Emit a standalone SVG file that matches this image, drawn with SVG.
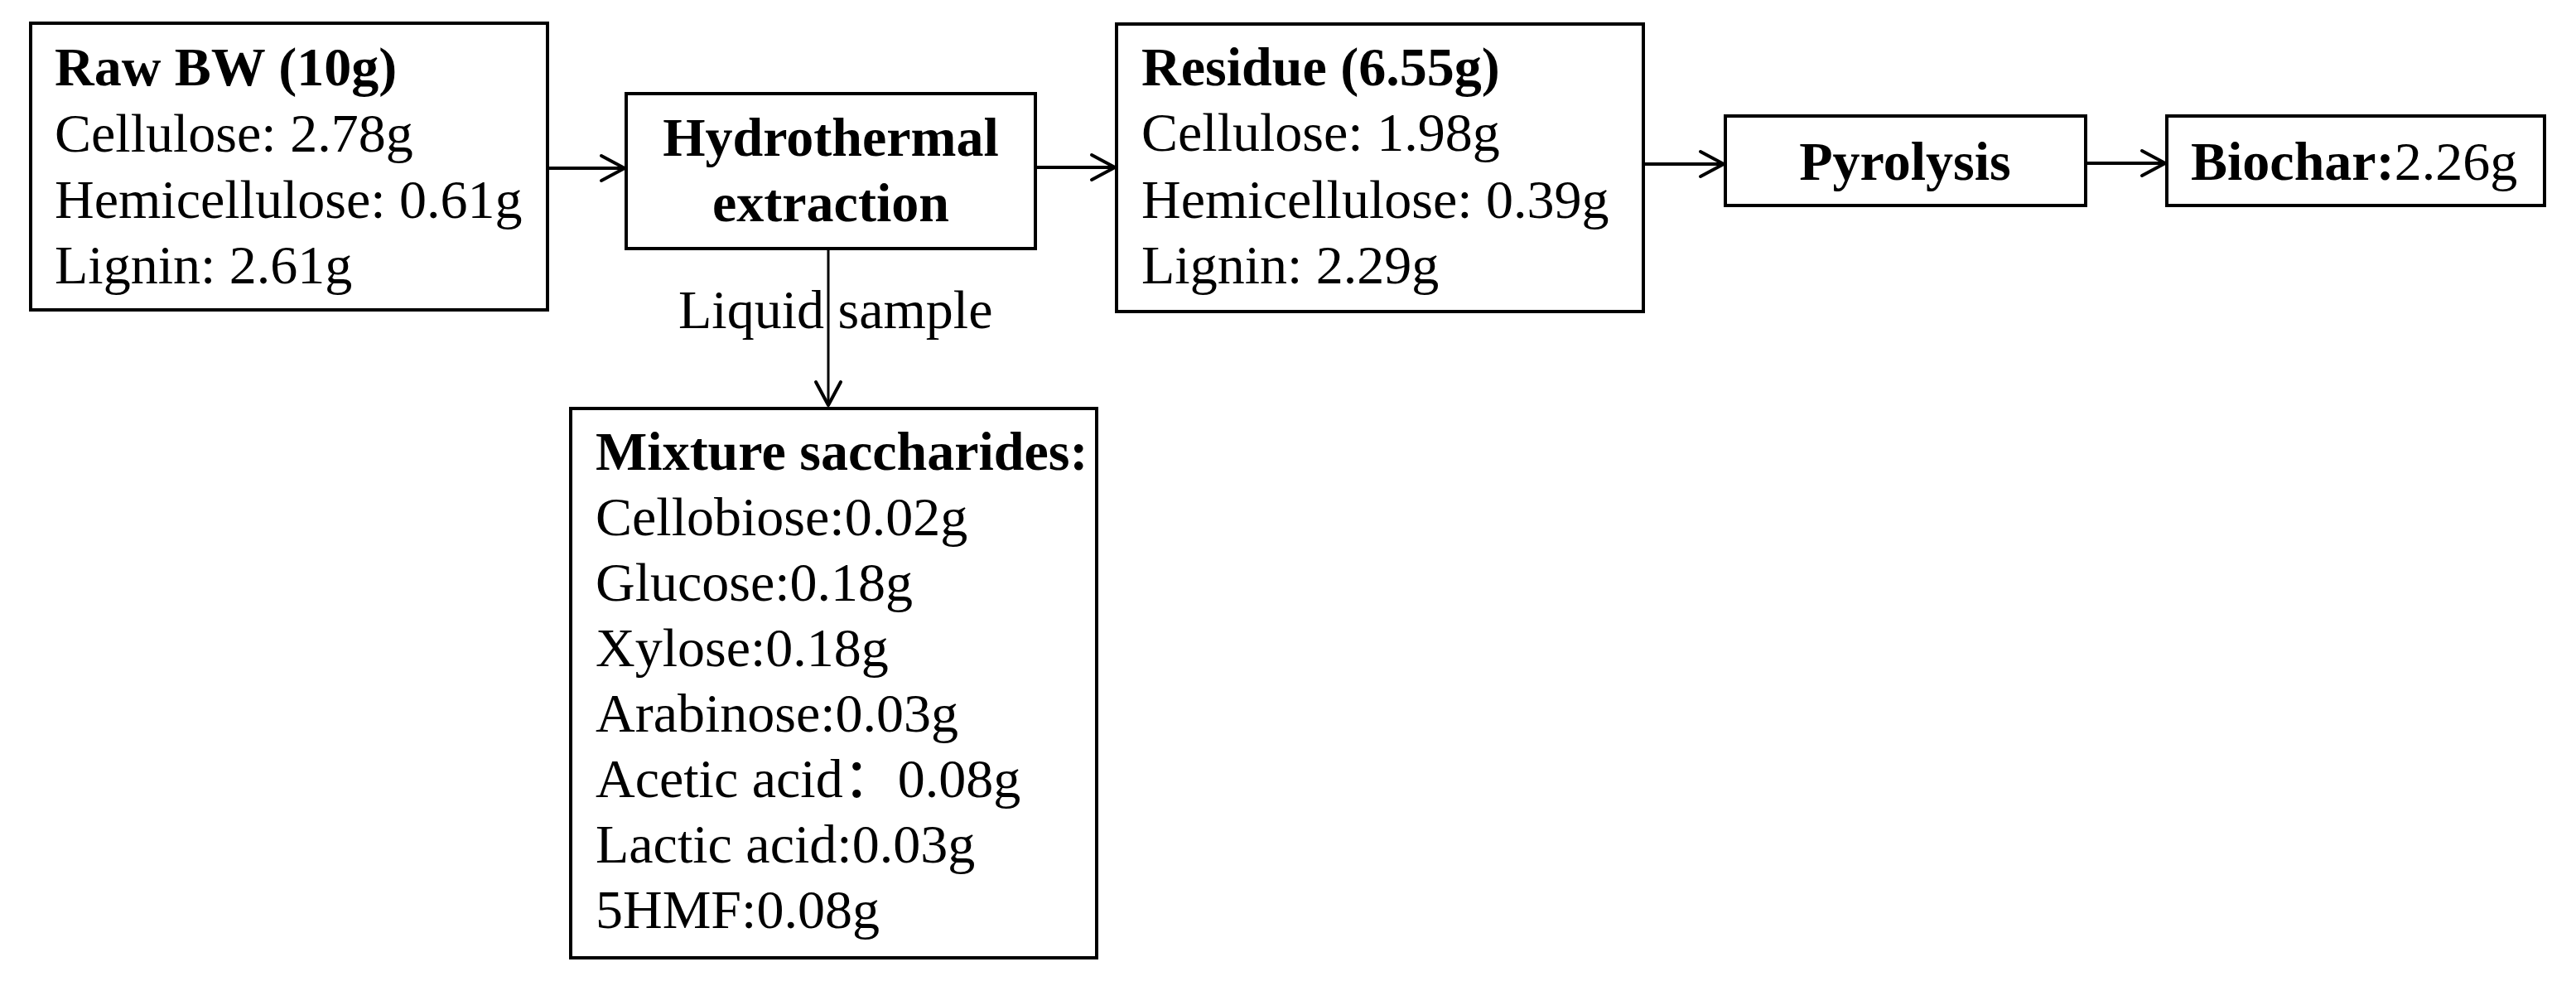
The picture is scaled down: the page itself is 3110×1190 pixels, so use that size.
<svg xmlns="http://www.w3.org/2000/svg" width="3110" height="1190" viewBox="0 0 3110 1190">
<defs>
<marker id="arr" markerUnits="userSpaceOnUse" markerWidth="40" markerHeight="40" viewBox="-32 -20 36 40" refX="0" refY="0" orient="auto">
<path d="M-28,-15 L0,0 L-28,15" fill="none" stroke="#000" stroke-width="4" stroke-linecap="round" stroke-linejoin="round"/>
</marker>
</defs>
<style>
.box{fill:#fff;stroke:#000;stroke-width:4}
text{font-family:"Liberation Serif","Times New Roman","Noto Sans CJK SC",serif;font-size:66px;fill:#000}
.b{font-weight:bold}
.c{text-anchor:middle}
.ln{stroke:#000;stroke-width:4;fill:none}
</style>
<rect width="3110" height="1190" fill="#fff"/>
<g id="connectors">
<line class="ln" x1="661" y1="203" x2="754" y2="203" marker-end="url(#arr)"/>
<line class="ln" x1="1250" y1="202" x2="1346" y2="202" marker-end="url(#arr)"/>
<line class="ln" x1="1984" y1="198" x2="2081" y2="198" marker-end="url(#arr)"/>
<line class="ln" x1="2518" y1="197" x2="2614" y2="197" marker-end="url(#arr)"/>
<line class="ln" x1="1000" y1="300" x2="1000" y2="489" style="stroke-width:3" marker-end="url(#arr)"/>
<text x="819" y="396">Liquid sample</text>
</g>
<g id="raw-bw">
<rect class="box" x="37" y="28" width="624" height="346"/>
<text x="66" y="103" class="b">Raw BW (10g)</text>
<text x="66" y="183">Cellulose: 2.78g</text>
<text x="66" y="263">Hemicellulose: 0.61g</text>
<text x="66" y="342">Lignin: 2.61g</text>
</g>
<g id="hydrothermal">
<rect class="box" x="756" y="113" width="494" height="187"/>
<text x="1003" y="188" class="b c">Hydrothermal</text>
<text x="1003" y="267" class="b c">extraction</text>
</g>
<g id="residue">
<rect class="box" x="1348" y="29" width="636" height="347"/>
<text x="1378" y="103" class="b">Residue (6.55g)</text>
<text x="1378" y="182">Cellulose: 1.98g</text>
<text x="1378" y="263">Hemicellulose: 0.39g</text>
<text x="1378" y="342">Lignin: 2.29g</text>
</g>
<g id="pyrolysis">
<rect class="box" x="2083" y="140" width="435" height="108"/>
<text x="2300" y="217" class="b c">Pyrolysis</text>
</g>
<g id="biochar">
<rect class="box" x="2616" y="140" width="456" height="108"/>
<text x="2645" y="217"><tspan class="b">Biochar:</tspan>2.26g</text>
</g>
<g id="mixture">
<rect class="box" x="689" y="493" width="635" height="663"/>
<text x="719" y="567" class="b">Mixture saccharides:</text>
<text x="719" y="646">Cellobiose:0.02g</text>
<text x="719" y="725">Glucose:0.18g</text>
<text x="719" y="804">Xylose:0.18g</text>
<text x="719" y="883">Arabinose:0.03g</text>
<text x="719" y="962">Acetic acid：0.08g</text>
<text x="719" y="1041">Lactic acid:0.03g</text>
<text x="719" y="1120">5HMF:0.08g</text>
</g>
</svg>
